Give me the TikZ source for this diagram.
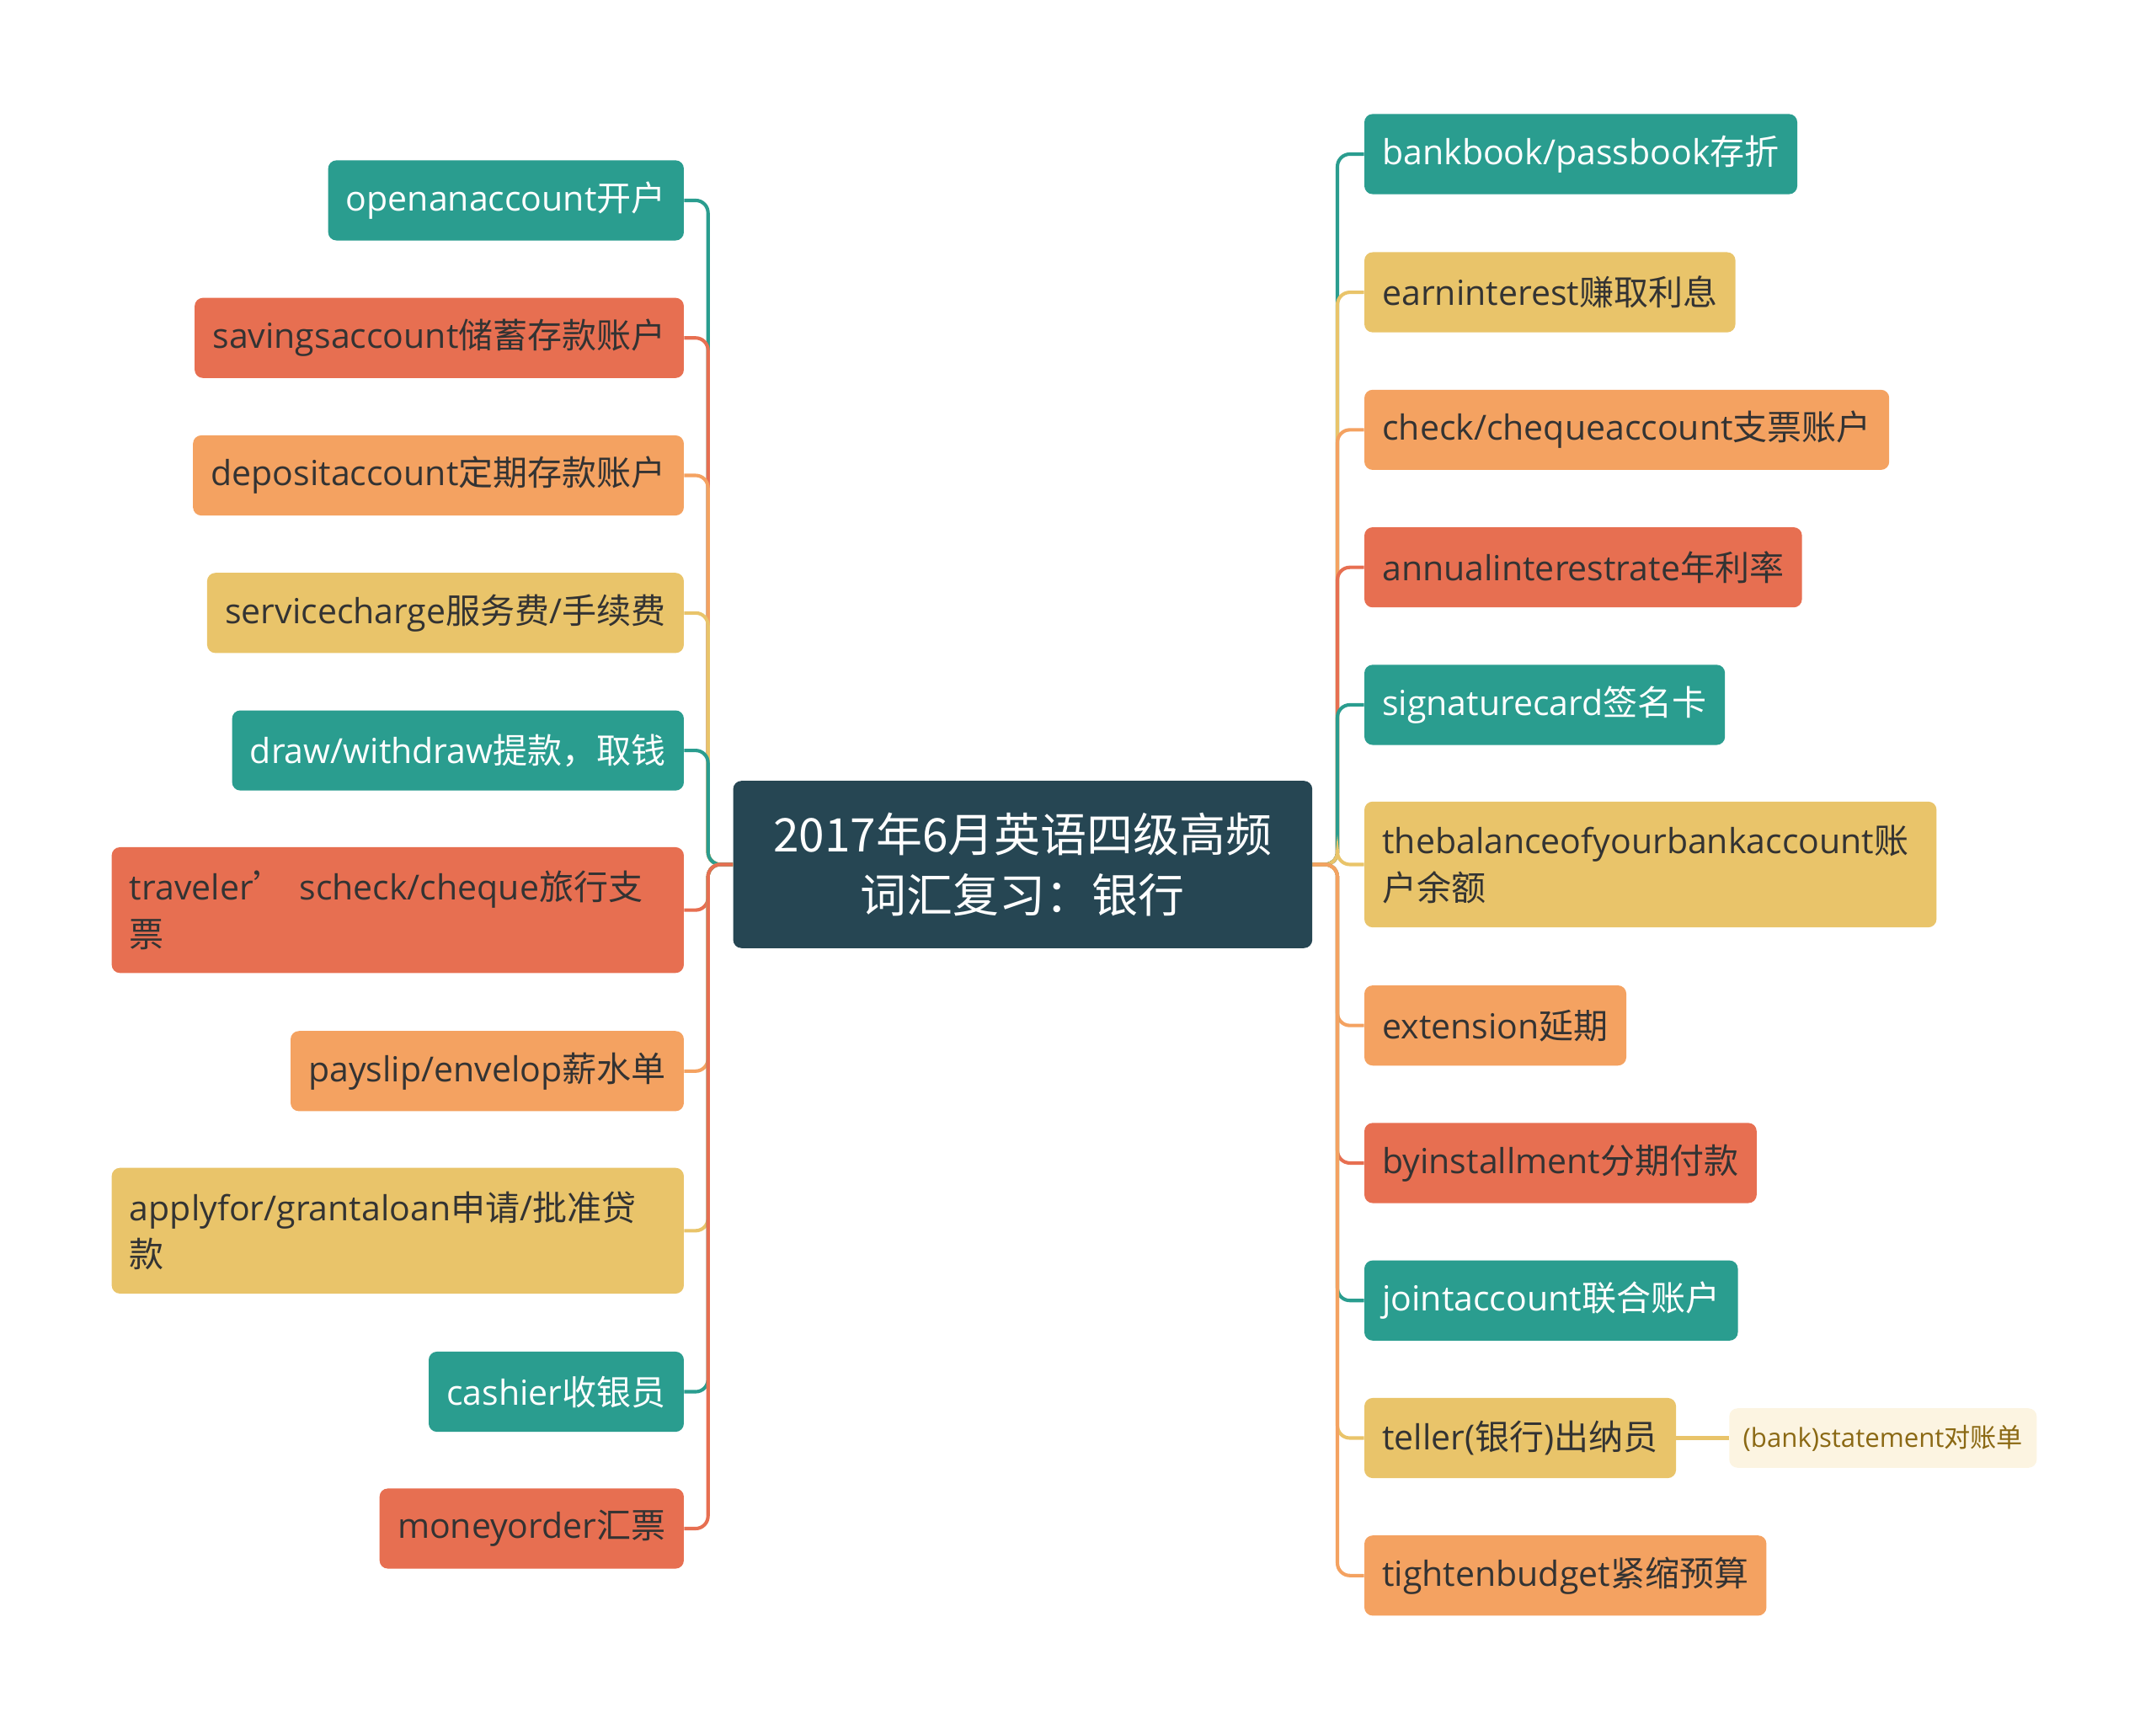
\documentclass[tikz,border=0pt]{standalone}
\usepackage{fontspec}
\setmainfont{Open Sans}
\newfontfamily\cjkfont{Noto Sans CJK SC}
\newcommand{\zh}[1]{{\cjkfont #1}}
\definecolor{mapdark}{HTML}{264653}
\definecolor{mapteal}{HTML}{2A9D8F}
\definecolor{mapyellow}{HTML}{E9C46A}
\definecolor{maporange}{HTML}{F4A261}
\definecolor{mapred}{HTML}{E76F51}
\definecolor{mapcream}{HTML}{FCF4E1}
\definecolor{mapbrown}{HTML}{8B6914}
\tikzset{leaf/.style={rounded corners=6pt,inner xsep=13pt,inner ysep=0pt,minimum height=58pt,
    font=\fontsize{25}{34}\selectfont,text=black!80},
  teal leaf/.style={leaf,fill=mapteal,text=white},
  red leaf/.style={leaf,fill=mapred},
  orange leaf/.style={leaf,fill=maporange},
  yellow leaf/.style={leaf,fill=mapyellow},
  two lines/.style={text width=388pt,align=left,minimum height=91pt},
}

\begin{document}
\begin{tikzpicture}[x=1pt,y=1pt,
    link/.style={line width=2.5pt,rounded corners=9pt},
    topic/.style={rounded corners=6pt,fill=mapdark,text=white,minimum width=419pt,minimum height=121pt,
      align=center,font=\cjkfont\fontsize{33.5}{44}\selectfont}]
  \useasboundingbox (0,0) rectangle (1560,-1251);

  \node[topic] (topic) at (740,-625.5) {2017年6月英语四级高频\\词汇复习：银行};

  % left branch
  \node[teal leaf,anchor=east] (open) at (495,-145) {openanaccount\zh{开户}};
  \node[red leaf,anchor=east] (savings) at (495,-244.5) {savingsaccount\zh{储蓄存款账户}};
  \node[orange leaf,anchor=east] (deposit) at (495,-344) {depositaccount\zh{定期存款账户}};
  \node[yellow leaf,anchor=east] (service) at (495,-443.5) {servicecharge\zh{服务费}/\zh{手续费}};
  \node[teal leaf,anchor=east] (withdraw) at (495,-543) {draw/withdraw\zh{提款，取钱}};
  \node[red leaf,two lines,anchor=east] (travel) at (495,-658.5) {traveler\zh{’}\ scheck/cheque\zh{旅行支}\\\zh{票}};
  \node[orange leaf,anchor=east] (payslip) at (495,-775) {payslip/envelop\zh{薪水单}};
  \node[yellow leaf,two lines,anchor=east] (loan) at (495,-890.5) {applyfor/grantaloan\zh{申请}/\zh{批准贷}\\\zh{款}};
  \node[teal leaf,anchor=east] (cashier) at (495,-1007) {cashier\zh{收银员}};
  \node[red leaf,anchor=east] (money) at (495,-1106) {moneyorder\zh{汇票}};

  % right branch
  \node[teal leaf,anchor=west] (bank) at (987,-111.5) {bankbook/passbook\zh{存折}};
  \node[yellow leaf,anchor=west] (earn) at (987,-211.5) {earninterest\zh{赚取利息}};
  \node[orange leaf,anchor=west] (check) at (987,-311) {check/chequeaccount\zh{支票账户}};
  \node[red leaf,anchor=west] (annual) at (987,-410.5) {annualinterestrate\zh{年利率}};
  \node[teal leaf,anchor=west] (signature) at (987,-510) {signaturecard\zh{签名卡}};
  \node[yellow leaf,two lines,anchor=west] (balance) at (987,-625.5) {thebalanceofyourbankaccount\zh{账}\\\zh{户余额}};
  \node[orange leaf,anchor=west] (extension) at (987,-742) {extension\zh{延期}};
  \node[red leaf,anchor=west] (install) at (987,-841.5) {byinstallment\zh{分期付款}};
  \node[teal leaf,anchor=west] (joint) at (987,-941) {jointaccount\zh{联合账户}};
  \node[yellow leaf,anchor=west] (teller) at (987,-1040.5) {teller(\zh{银行})\zh{出纳员}};
  \node[orange leaf,anchor=west] (tighten) at (987,-1140) {tightenbudget\zh{紧缩预算}};
  \node[rounded corners=6pt,fill=mapcream,text=mapbrown,inner xsep=10pt,inner ysep=0pt,minimum height=43pt,
    font=\fontsize{19}{24}\selectfont,anchor=west] (statement) at (1251,-1040.5) {(bank)statement\zh{对账单}};

  % connectors: upper ones outer first, lower ones inner first
  \foreach \n/\c in {open/mapteal,savings/mapred,deposit/maporange,service/mapyellow,withdraw/mapteal,
      travel/mapred,payslip/maporange,loan/mapyellow,cashier/mapteal,money/mapred}
    \draw[link,\c] (topic.west) -- ++(-18,0) |- (\n.east);
  \foreach \n/\c in {bank/mapteal,earn/mapyellow,check/maporange,annual/mapred,signature/mapteal,
      balance/mapyellow,extension/maporange,install/mapred,joint/mapteal,teller/mapyellow,tighten/maporange}
    \draw[link,\c] (topic.east) -- ++(18,0) |- (\n.west);
  \draw[link,mapyellow] (teller.east) -- (statement.west);
\end{tikzpicture}
\end{document}
